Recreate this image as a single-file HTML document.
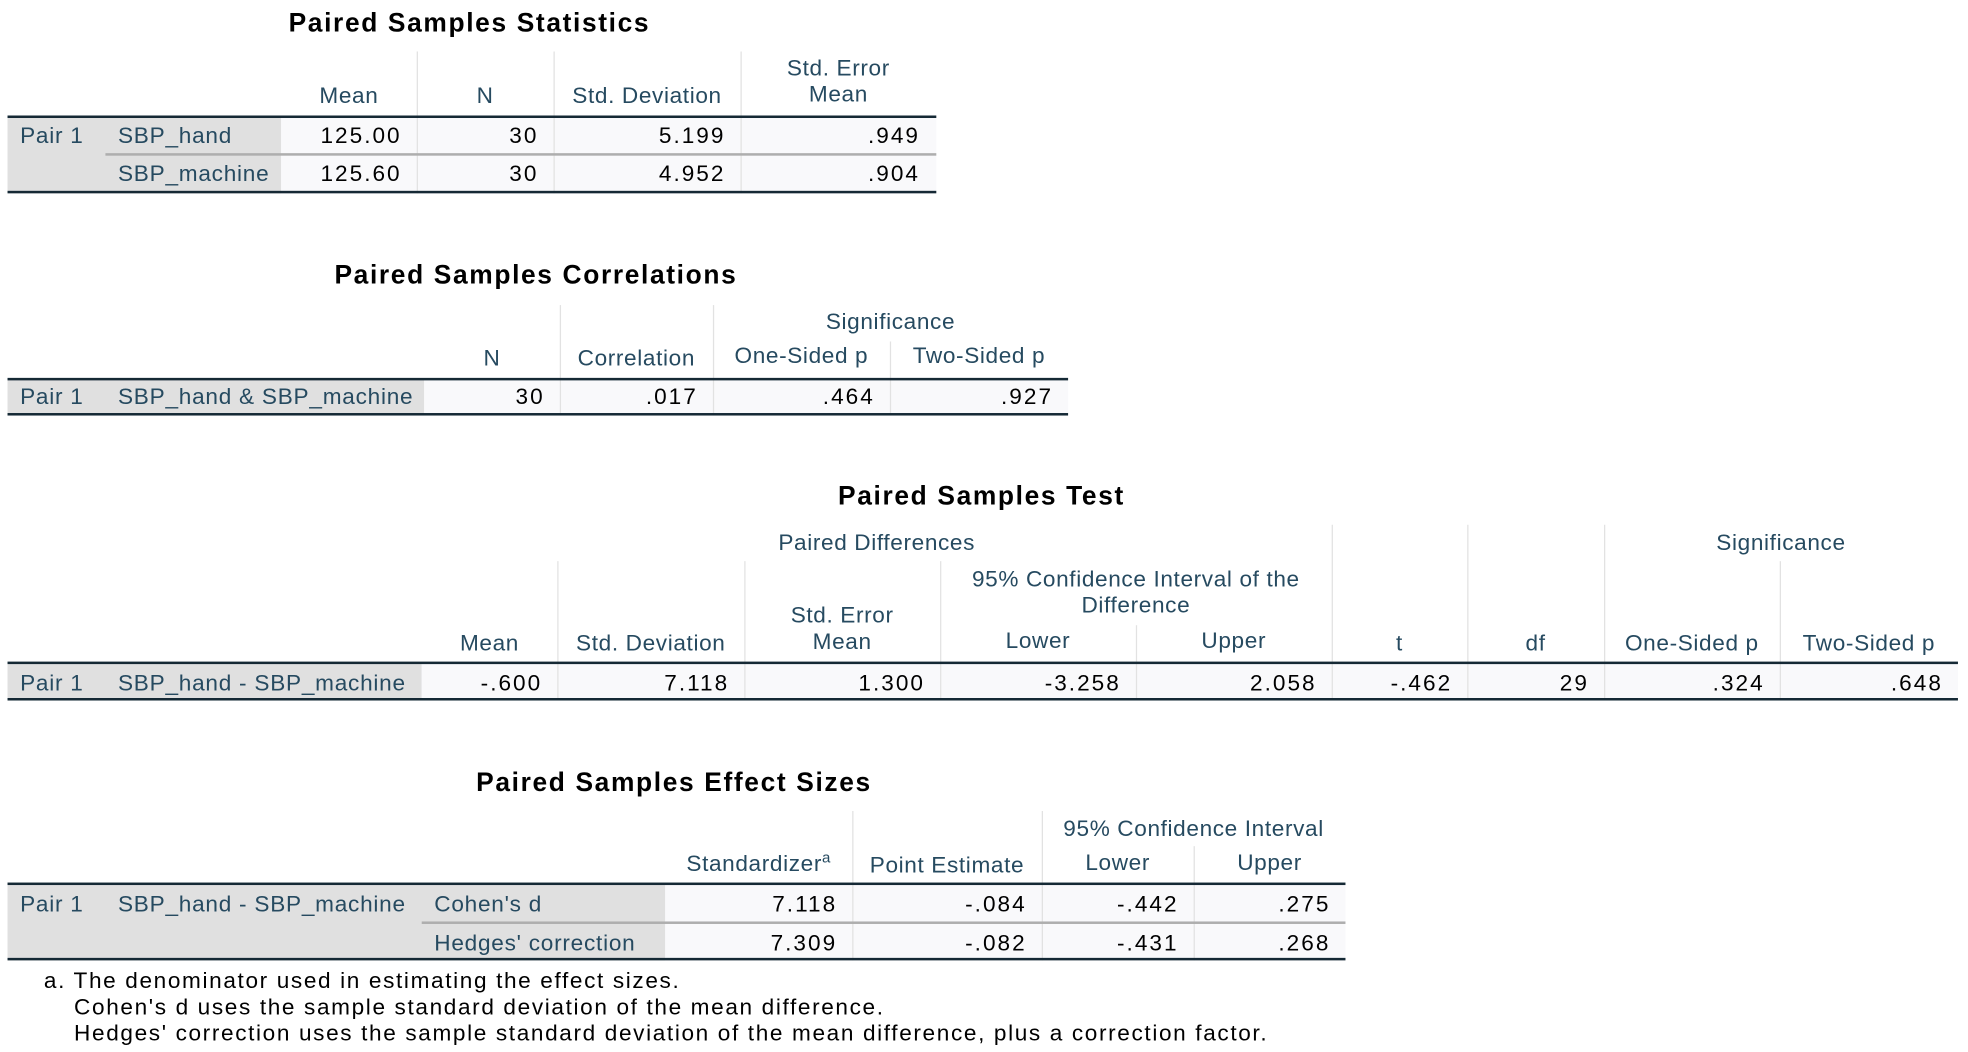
<!DOCTYPE html>
<html><head><meta charset="utf-8"><style>
html,body{margin:0;padding:0;background:#fff;width:1968px;height:1052px;overflow:hidden}
#w{position:absolute;left:0;top:0;width:1568px;height:838px;transform:scale(1.2551,1.2554);transform-origin:0 0;font-family:"Liberation Sans",sans-serif;font-size:18px}
#w div{position:absolute;white-space:nowrap;line-height:22px}
.ti{font-weight:bold;font-size:21px;color:#000;text-align:center;letter-spacing:1.3px}
.h{color:#264a60;text-align:center;letter-spacing:0.5px}
.l{color:#264a60;letter-spacing:0.6px}
.n{color:#000;text-align:right;letter-spacing:1.6px}
.g{background:#e0e0e0}
.d{background:#f9f9fb}
.k{background:#152935;height:2px}
.v{background:#e2e2e2;width:1px}
.s{background:#aeaeae;height:2px}
.f{color:#000;letter-spacing:1.3px}
</style></head><body><div id="w">

<!-- Table 1 -->
<div class="ti" style="left:0;width:748px;top:8px">Paired Samples Statistics</div>
<div class="g" style="left:6px;top:93px;width:218px;height:61px"></div>
<div class="d" style="left:224px;top:93px;width:522px;height:61px"></div>
<div class="v" style="left:332px;top:41px;height:113px"></div>
<div class="v" style="left:441px;top:41px;height:113px"></div>
<div class="v" style="left:590px;top:41px;height:113px"></div>
<div class="h" style="left:224px;width:108px;top:65px">Mean</div>
<div class="h" style="left:332px;width:109px;top:65px">N</div>
<div class="h" style="left:441px;width:149px;top:65px">Std. Deviation</div>
<div class="h" style="left:590px;width:156px;top:43px">Std. Error</div>
<div class="h" style="left:590px;width:156px;top:64px">Mean</div>
<div class="k" style="left:6px;width:740px;top:92px"></div>
<div class="k" style="left:6px;width:740px;top:152px"></div>
<div class="s" style="left:84px;width:662px;top:122px"></div>
<div class="l" style="left:16px;top:97px">Pair 1</div>
<div class="l" style="left:94px;top:97px">SBP_hand</div>
<div class="l" style="left:94px;top:127px">SBP_machine</div>
<div class="n" style="left:224px;width:96px;top:97px">125.00</div>
<div class="n" style="left:332px;width:97px;top:97px">30</div>
<div class="n" style="left:441px;width:137px;top:97px">5.199</div>
<div class="n" style="left:590px;width:143px;top:97px">.949</div>
<div class="n" style="left:224px;width:96px;top:127px">125.60</div>
<div class="n" style="left:332px;width:97px;top:127px">30</div>
<div class="n" style="left:441px;width:137px;top:127px">4.952</div>
<div class="n" style="left:590px;width:143px;top:127px">.904</div>

<!-- Table 2 -->
<div class="ti" style="left:0;width:854px;top:209px">Paired Samples Correlations</div>
<div class="g" style="left:6px;top:302px;width:332px;height:29px"></div>
<div class="d" style="left:338px;top:302px;width:513px;height:29px"></div>
<div class="v" style="left:446px;top:243px;height:88px"></div>
<div class="v" style="left:568px;top:243px;height:88px"></div>
<div class="v" style="left:709px;top:272px;height:59px"></div>
<div class="h" style="left:568px;width:283px;top:245px">Significance</div>
<div class="h" style="left:338px;width:108px;top:274px">N</div>
<div class="h" style="left:446px;width:122px;top:274px">Correlation</div>
<div class="h" style="left:568px;width:141px;top:272px">One-Sided p</div>
<div class="h" style="left:709px;width:142px;top:272px">Two-Sided p</div>
<div class="k" style="left:6px;width:845px;top:301px"></div>
<div class="k" style="left:6px;width:845px;top:329px"></div>
<div class="l" style="left:16px;top:305px">Pair 1</div>
<div class="l" style="left:94px;top:305px">SBP_hand &amp; SBP_machine</div>
<div class="n" style="left:338px;width:96px;top:305px">30</div>
<div class="n" style="left:446px;width:110px;top:305px">.017</div>
<div class="n" style="left:568px;width:129px;top:305px">.464</div>
<div class="n" style="left:709px;width:130px;top:305px">.927</div>

<!-- Table 3 -->
<div class="ti" style="left:0;width:1564px;top:385px">Paired Samples Test</div>
<div class="g" style="left:6px;top:529px;width:330px;height:28px"></div>
<div class="d" style="left:336px;top:529px;width:1224px;height:28px"></div>
<div class="v" style="left:444px;top:447px;height:110px"></div>
<div class="v" style="left:593px;top:447px;height:110px"></div>
<div class="v" style="left:749px;top:447px;height:110px"></div>
<div class="v" style="left:905px;top:498px;height:59px"></div>
<div class="v" style="left:1061px;top:418px;height:139px"></div>
<div class="v" style="left:1169px;top:418px;height:139px"></div>
<div class="v" style="left:1278px;top:418px;height:139px"></div>
<div class="v" style="left:1418px;top:447px;height:110px"></div>
<div class="h" style="left:336px;width:725px;top:421px">Paired Differences</div>
<div class="h" style="left:1278px;width:282px;top:421px">Significance</div>
<div class="h" style="left:749px;width:312px;top:450px">95% Confidence Interval of the</div>
<div class="h" style="left:749px;width:312px;top:471px">Difference</div>
<div class="h" style="left:593px;width:156px;top:479px">Std. Error</div>
<div class="h" style="left:593px;width:156px;top:500px">Mean</div>
<div class="h" style="left:336px;width:108px;top:501px">Mean</div>
<div class="h" style="left:444px;width:149px;top:501px">Std. Deviation</div>
<div class="h" style="left:749px;width:156px;top:499px">Lower</div>
<div class="h" style="left:905px;width:156px;top:499px">Upper</div>
<div class="h" style="left:1061px;width:108px;top:501px">t</div>
<div class="h" style="left:1169px;width:109px;top:501px">df</div>
<div class="h" style="left:1278px;width:140px;top:501px">One-Sided p</div>
<div class="h" style="left:1418px;width:142px;top:501px">Two-Sided p</div>
<div class="k" style="left:6px;width:1554px;top:527px"></div>
<div class="k" style="left:6px;width:1554px;top:556px"></div>
<div class="l" style="left:16px;top:533px">Pair 1</div>
<div class="l" style="left:94px;top:533px">SBP_hand - SBP_machine</div>
<div class="n" style="left:336px;width:96px;top:533px">-.600</div>
<div class="n" style="left:444px;width:137px;top:533px">7.118</div>
<div class="n" style="left:593px;width:144px;top:533px">1.300</div>
<div class="n" style="left:749px;width:144px;top:533px">-3.258</div>
<div class="n" style="left:905px;width:144px;top:533px">2.058</div>
<div class="n" style="left:1061px;width:96px;top:533px">-.462</div>
<div class="n" style="left:1169px;width:97px;top:533px">29</div>
<div class="n" style="left:1278px;width:128px;top:533px">.324</div>
<div class="n" style="left:1418px;width:130px;top:533px">.648</div>

<!-- Table 4 -->
<div class="ti" style="left:0;width:1074px;top:613px">Paired Samples Effect Sizes</div>
<div class="g" style="left:6px;top:705px;width:524px;height:60px"></div>
<div class="d" style="left:530px;top:705px;width:542px;height:60px"></div>
<div class="v" style="left:679px;top:646px;height:119px"></div>
<div class="v" style="left:830px;top:646px;height:119px"></div>
<div class="v" style="left:951px;top:674px;height:91px"></div>
<div class="h" style="left:830px;width:242px;top:649px">95% Confidence Interval</div>
<div class="h" style="left:530px;width:149px;top:677px">Standardizer<sup style="font-size:12px;line-height:0">a</sup></div>
<div class="h" style="left:679px;width:151px;top:678px">Point Estimate</div>
<div class="h" style="left:830px;width:121px;top:676px">Lower</div>
<div class="h" style="left:951px;width:121px;top:676px">Upper</div>
<div class="k" style="left:6px;width:1066px;top:703px"></div>
<div class="k" style="left:6px;width:1066px;top:763px"></div>
<div class="s" style="left:336px;width:736px;top:734px"></div>
<div class="l" style="left:16px;top:709px">Pair 1</div>
<div class="l" style="left:94px;top:709px">SBP_hand - SBP_machine</div>
<div class="l" style="left:346px;top:709px">Cohen's d</div>
<div class="l" style="left:346px;top:740px">Hedges' correction</div>
<div class="n" style="left:530px;width:137px;top:709px">7.118</div>
<div class="n" style="left:679px;width:139px;top:709px">-.084</div>
<div class="n" style="left:830px;width:109px;top:709px">-.442</div>
<div class="n" style="left:951px;width:109px;top:709px">.275</div>
<div class="n" style="left:530px;width:137px;top:740px">7.309</div>
<div class="n" style="left:679px;width:139px;top:740px">-.082</div>
<div class="n" style="left:830px;width:109px;top:740px">-.431</div>
<div class="n" style="left:951px;width:109px;top:740px">.268</div>

<div class="f" style="left:35px;top:770px">a. The denominator used in estimating the effect sizes.</div>
<div class="f" style="left:59px;top:791px">Cohen's d uses the sample standard deviation of the mean difference.</div>
<div class="f" style="left:59px;top:812px">Hedges' correction uses the sample standard deviation of the mean difference, plus a correction factor.</div>

</div></body></html>
